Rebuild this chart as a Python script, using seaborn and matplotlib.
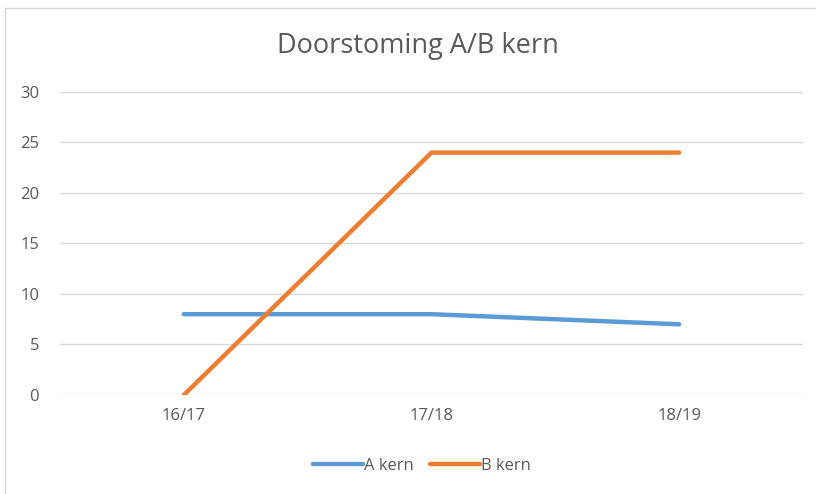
import matplotlib.pyplot as plt
import matplotlib.patches as mpatches
import seaborn as sns
import pandas as pd

years = ["16/17", "17/18", "18/19"]
a_kern = [8, 8, 7]
b_kern = [0, 24, 24]

data = pd.DataFrame({
    "jaar": years * 2,
    "waarde": a_kern + b_kern,
    "reeks": ["A kern"] * 3 + ["B kern"] * 3,
})

sns.set_theme(style="white")
plt.rcParams['font.family'] = ['Open Sans', 'DejaVu Sans']

fig = plt.figure(figsize=(8.16, 4.94), dpi=100)
ax = fig.add_axes([0.0735, 0.2004, 0.9105, 0.6134])

g = sns.lineplot(x="jaar", y="waarde", hue="reeks", data=data, ax=ax,
                 palette=["#5B9BD5", "#ED7D31"], linewidth=3.2, legend=False)

ax.set_xlim(-0.5, 2.5)
ax.set_ylim(0, 30)
ax.set_yticks(range(0, 31, 5))
ax.set_xlabel("")
ax.set_ylabel("")
ax.grid(axis="y", color="#D9D9D9", linewidth=1)
ax.set_axisbelow(True)
for s in ax.spines.values():
    s.set_visible(False)
ax.tick_params(axis="both", length=0, labelsize=12, labelcolor="#595959")
ax.tick_params(axis="y", pad=15)
ax.tick_params(axis="x", pad=9)

fig.text(0.512, 0.907, "Doorstoming A/B kern", ha="center", va="center",
         fontsize=19.5, color="#595959")

handles = [plt.Line2D([], [], color="#5B9BD5", lw=3.2),
           plt.Line2D([], [], color="#ED7D31", lw=3.2)]
fig.legend(handles, ["A kern", "B kern"], loc="center", bbox_to_anchor=(0.517, 0.057),
           ncol=2, frameon=False, fontsize=12, labelcolor="#595959",
           handlelength=3.0, handletextpad=0.05, columnspacing=1.0)

# chart area border
fig.patches.append(mpatches.Rectangle((5 / 816, -0.1), 1.0, 1 - 8 / 494 + 0.1,
                                      transform=fig.transFigure, fill=False,
                                      edgecolor="#D9D9D9", linewidth=1))

plt.savefig("out.png", dpi=100)
